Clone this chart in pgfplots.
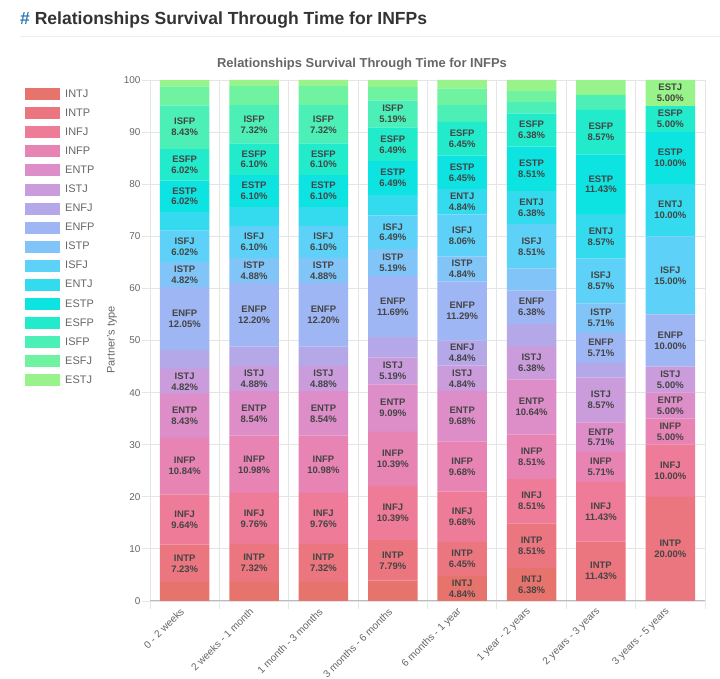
\documentclass[border=0pt]{standalone}
\usepackage{fontspec}
\setmainfont{Liberation Sans}
\usepackage{pgfplots}
\usepackage{pgfplotstable}
\pgfplotsset{compat=1.18}

\definecolor{cINTJ}{HTML}{E6746C}
\definecolor{cINTP}{HTML}{EB7680}
\definecolor{cINFJ}{HTML}{EE7B97}
\definecolor{cINFP}{HTML}{E784B3}
\definecolor{cENTP}{HTML}{DD8DC8}
\definecolor{cISTJ}{HTML}{CA9CDB}
\definecolor{cENFJ}{HTML}{B4A8E8}
\definecolor{cENFP}{HTML}{9EB6F3}
\definecolor{cISTP}{HTML}{81C4F8}
\definecolor{cISFJ}{HTML}{5DD1F7}
\definecolor{cENTJ}{HTML}{34DBEE}
\definecolor{cESTP}{HTML}{0DE3E0}
\definecolor{cESFP}{HTML}{22EBCB}
\definecolor{cISFP}{HTML}{4CF0B7}
\definecolor{cESFJ}{HTML}{70F3A0}
\definecolor{cESTJ}{HTML}{98F38A}
\definecolor{txtgray}{HTML}{666666}
\definecolor{lbl}{HTML}{444444}
\definecolor{gridc}{HTML}{E5E5E5}
\definecolor{hashblue}{HTML}{337AB7}
\definecolor{headc}{HTML}{333333}
\definecolor{lineg}{HTML}{EEEEEE}
\definecolor{axisc}{HTML}{BBBBBB}

\pgfplotstableread{
x INTJ INTP INFJ INFP ENTP ISTJ ENFJ ENFP ISTP ISFJ ENTJ ESTP ESFP ISFP ESFJ ESTJ
0 3.61 7.23 9.64 10.84 8.43 4.82 3.61 12.05 4.82 6.02 3.61 6.02 6.02 8.43 3.61 1.20
1 3.66 7.32 9.76 10.98 8.54 4.88 3.66 12.20 4.88 6.10 3.66 6.10 6.10 7.32 3.66 1.22
2 3.66 7.32 9.76 10.98 8.54 4.88 3.66 12.20 4.88 6.10 3.66 6.10 6.10 7.32 3.66 1.22
3 3.90 7.79 10.39 10.39 9.09 5.19 3.90 11.69 5.19 6.49 3.90 6.49 6.49 5.19 2.60 1.30
4 4.84 6.45 9.68 9.68 9.68 4.84 4.84 11.29 4.84 8.06 4.84 6.45 6.45 3.23 3.23 1.61
5 6.38 8.51 8.51 8.51 10.64 6.38 4.26 6.38 4.26 8.51 6.38 8.51 6.38 2.13 2.13 2.13
6 0.00 11.43 11.43 5.71 5.71 8.57 2.86 5.71 5.71 8.57 8.57 11.43 8.57 2.86 0.00 2.86
7 0.00 20.00 10.00 5.00 5.00 5.00 0.00 10.00 0.00 15.00 10.00 10.00 5.00 0.00 0.00 5.00
}\datatable

\pgfplotsset{
  calcshow/.code={%
    \pgfkeys{/pgf/fpu=true,/pgf/fpu/output format=fixed}%
    \pgfmathsetmacro\myshow{\pgfplotspointmeta>4.5}%
    \pgfkeys{/pgf/fpu=false}%
  },
  seg/.style={
    fill=c#1, draw=none,
    point meta=\thisrow{#1},
    nodes near coords={\ifdim\myshow pt>0.5pt #1\\\pgfmathprintnumber[fixed,fixed zerofill,precision=2]{\pgfplotspointmeta}\%\fi},
    every node near coord/.append style={/pgfplots/calcshow, anchor=center, align=center},
    legend image code/.code={\fill[c#1] (0bp,-6bp) rectangle (35bp,6bp);},
  },
}

\begin{document}
\begin{tikzpicture}[x=1bp,y=1bp]
\path[use as bounding box] (0,0) rectangle (720,679);
\node[anchor=west, font=\bfseries\fontsize{17.6}{20}\selectfont, text=headc, inner sep=0pt]
  at (20,659) {{\color{hashblue}\#} Relationships Survival Through Time for INFPs};
\draw[lineg, line width=1bp] (20,642) -- (720,642);
\node[font=\bfseries\fontsize{13}{15}\selectfont, text=txtgray, inner sep=0pt]
  at (362,615) {Relationships Survival Through Time for INFPs};
\begin{axis}[
  at={(150bp,78bp)}, anchor=south west,
  width=555bp, height=521bp, scale only axis,
  ybar stacked, bar width=49.5bp,
  xmin=-0.5, xmax=7.5, ymin=0, ymax=100,
  xtick={-0.5,0.5,...,7.5},
  xticklabels={},
  extra x ticks={0,1,...,7},
  extra x tick labels={0 - 2 weeks, 2 weeks - 1 month, 1 month - 3 months, 3 months - 6 months, 6 months - 1 year, 1 year - 2 years, 2 years - 3 years, 3 years - 5 years},
  extra x tick style={grid=none, major tick length=0pt},
  ytick={0,10,...,100},
  xmajorgrids, ymajorgrids,
  grid style={gridc, line width=0.8bp},
  separate axis lines,
  axis x line*=bottom, axis y line*=left,
  x axis line style={axisc, line width=1bp},
  y axis line style={draw=none},
  tick align=outside,
  major tick length=8bp,
  tick style={gridc, line width=0.8bp},
  /pgf/number format/assume math mode=true,
  yticklabel style={font=\fontsize{10}{12}\selectfont, text=txtgray, xshift=2bp},
  xticklabel style={font=\fontsize{10.2}{12}\selectfont, text=txtgray, yshift=-6.5bp, rotate=45, anchor=east},
  ylabel={Partner's type},
  every axis y label/.style={at={(axis description cs:-0.0685,0.501)}, rotate=90, anchor=center,
    font=\fontsize{11}{13}\selectfont, text=txtgray},
  every node near coord/.append style={font=\bfseries\fontsize{9.5}{11}\selectfont, text=lbl, inner sep=0pt},
  legend style={at={(-0.2252,0.9846)}, anchor=north west, draw=none, fill=none,
    font=\fontsize{11}{13}\selectfont, text=txtgray, row sep=7.07bp, inner sep=0pt,
    nodes={inner sep=1bp}, /tikz/every odd column/.append style={column sep=4bp}},
  legend cell align=left,
]
\addplot+[seg=INTJ] table[x=x,y=INTJ]{\datatable}; \addlegendentry{INTJ}
\addplot+[seg=INTP] table[x=x,y=INTP]{\datatable}; \addlegendentry{INTP}
\addplot+[seg=INFJ] table[x=x,y=INFJ]{\datatable}; \addlegendentry{INFJ}
\addplot+[seg=INFP] table[x=x,y=INFP]{\datatable}; \addlegendentry{INFP}
\addplot+[seg=ENTP] table[x=x,y=ENTP]{\datatable}; \addlegendentry{ENTP}
\addplot+[seg=ISTJ] table[x=x,y=ISTJ]{\datatable}; \addlegendentry{ISTJ}
\addplot+[seg=ENFJ] table[x=x,y=ENFJ]{\datatable}; \addlegendentry{ENFJ}
\addplot+[seg=ENFP] table[x=x,y=ENFP]{\datatable}; \addlegendentry{ENFP}
\addplot+[seg=ISTP] table[x=x,y=ISTP]{\datatable}; \addlegendentry{ISTP}
\addplot+[seg=ISFJ] table[x=x,y=ISFJ]{\datatable}; \addlegendentry{ISFJ}
\addplot+[seg=ENTJ] table[x=x,y=ENTJ]{\datatable}; \addlegendentry{ENTJ}
\addplot+[seg=ESTP] table[x=x,y=ESTP]{\datatable}; \addlegendentry{ESTP}
\addplot+[seg=ESFP] table[x=x,y=ESFP]{\datatable}; \addlegendentry{ESFP}
\addplot+[seg=ISFP] table[x=x,y=ISFP]{\datatable}; \addlegendentry{ISFP}
\addplot+[seg=ESFJ] table[x=x,y=ESFJ]{\datatable}; \addlegendentry{ESFJ}
\addplot+[seg=ESTJ] table[x=x,y=ESTJ]{\datatable}; \addlegendentry{ESTJ}
\end{axis}
\end{tikzpicture}
\end{document}
